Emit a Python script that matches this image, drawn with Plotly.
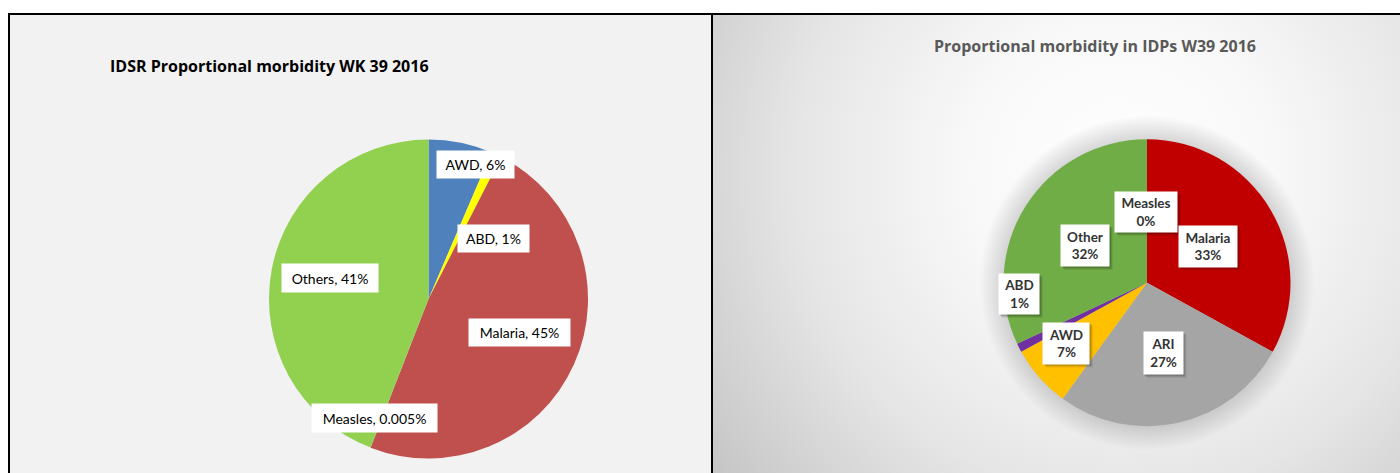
import base64
import plotly.graph_objects as go

W, H = 1400, 473

# ---------------- data ----------------
idsr_title = "IDSR Proportional morbidity WK 39 2016"
idsr_categories = ["AWD", "ABD", "Malaria", "Measles", "Others"]
idsr_values = [6, 1, 45, 0.005, 41]
idsr_colors = ["#4f81bd", "#ffff00", "#c0504d", "#8064a2", "#92d050"]

idp_title = "Proportional morbidity in IDPs W39 2016"
idp_categories = ["Malaria", "ARI", "AWD", "ABD", "Other", "Measles"]
idp_values = [33, 27, 7, 1, 32, 0]
idp_colors = ["#c00000", "#a5a5a5", "#ffc000", "#7030a0", "#70ad47", "#4472c4"]

# ---------------- layout helpers (pixel -> paper) ----------------
def px(x):
    return x / W


def py(y):
    return 1 - y / H


# label box placement (pixel centre x, centre y, box width, box height)
idsr_label_boxes = {
    "AWD": (475, 165, 77, 27),
    "ABD": (493, 238, 71, 27),
    "Malaria": (519, 332, 101, 27),
    "Measles": (374, 418, 125, 28),
    "Others": (330, 278, 96, 28),
}
idp_label_boxes = {
    "Malaria": (1207.5, 246, 58, 41),
    "ARI": (1163, 353, 39, 42),
    "AWD": (1066, 343, 46, 41),
    "ABD": (1019, 294, 40, 40),
    "Other": (1085, 245.5, 48, 41),
    "Measles": (1146, 212, 62, 40),
}

FONT = "Lato, 'Open Sans', sans-serif"
TITLE_FONT = "'Open Sans', Lato, sans-serif"

fig = go.Figure()

# left pie: centre (428.5, 299), r 159.5
fig.add_trace(go.Pie(
    labels=idsr_categories, values=idsr_values,
    marker=dict(colors=idsr_colors, line=dict(width=0)),
    sort=False, direction="clockwise", rotation=0,
    textinfo="none", hoverinfo="skip", showlegend=False,
    domain=dict(x=[px(269), px(588)], y=[py(458.5), py(139.5)]),
))

# right pie: centre (1147, 282.7), r 143.5
fig.add_trace(go.Pie(
    labels=idp_categories, values=idp_values,
    marker=dict(colors=idp_colors, line=dict(width=0)),
    sort=False, direction="clockwise", rotation=0,
    textinfo="none", hoverinfo="skip", showlegend=False,
    domain=dict(x=[px(1003.5), px(1290.5)], y=[py(426.2), py(139.2)]),
))

# ---------------- right panel gradient background (SVG) ----------------
rx0, ry0 = 712, 14
rw, rh = W - rx0, H - ry0
pcx, pcy, pr = 1147 - rx0, 282.7 - ry0, 143.5
svg = f'''<svg xmlns="http://www.w3.org/2000/svg" width="{rw}" height="{rh}" viewBox="0 0 {rw} {rh}">
<defs>
<radialGradient id="bg" gradientUnits="userSpaceOnUse" cx="{1120 - rx0}" cy="{170 - ry0}" r="520">
<stop offset="0" stop-color="#ffffff"/>
<stop offset="0.3" stop-color="#f8f8f8"/>
<stop offset="0.62" stop-color="#e6e6e6"/>
<stop offset="1" stop-color="#c3c3c3"/>
</radialGradient>
<radialGradient id="glow" gradientUnits="userSpaceOnUse" cx="{pcx}" cy="{pcy}" r="{pr + 24}">
<stop offset="0" stop-color="#000000" stop-opacity="0.2"/>
<stop offset="{pr / (pr + 24):.3f}" stop-color="#000000" stop-opacity="0.15"/>
<stop offset="1" stop-color="#000000" stop-opacity="0"/>
</radialGradient>
</defs>
<rect x="0" y="0" width="{rw}" height="{rh}" fill="url(#bg)"/>
<circle cx="{pcx}" cy="{pcy}" r="{pr + 24}" fill="url(#glow)"/>
</svg>'''
svg_uri = "data:image/svg+xml;base64," + base64.b64encode(svg.encode()).decode()

images = [dict(
    source=svg_uri, xref="paper", yref="paper",
    x=px(rx0), y=py(ry0), sizex=rw / W, sizey=rh / H,
    xanchor="left", yanchor="top", sizing="stretch", layer="below",
)]

shapes = [
    # left panel fill
    dict(type="rect", xref="paper", yref="paper",
         x0=px(9), x1=px(712), y0=py(H + 5), y1=py(14),
         fillcolor="#f2f2f2", line=dict(width=0), layer="below"),
    # borders
    dict(type="line", xref="paper", yref="paper",
         x0=px(8), x1=px(W + 5), y0=py(14), y1=py(14),
         line=dict(color="#000000", width=2)),
    dict(type="line", xref="paper", yref="paper",
         x0=px(9), x1=px(9), y0=py(14), y1=py(H + 5),
         line=dict(color="#000000", width=2)),
    dict(type="line", xref="paper", yref="paper",
         x0=px(712), x1=px(712), y0=py(14), y1=py(H + 5),
         line=dict(color="#000000", width=2)),
]

annotations = [
    dict(text=f"<b>{idsr_title}</b>", xref="paper", yref="paper",
         x=px(108), y=py(66), xanchor="left", yanchor="middle", showarrow=False,
         font=dict(family=TITLE_FONT, size=16, color="#000000")),
    dict(text=f"<b>{idp_title}</b>", xref="paper", yref="paper",
         x=px(1094.5), y=py(46), xanchor="center", yanchor="middle", showarrow=False,
         font=dict(family=TITLE_FONT, size=16, color="#595959")),
]

for cat, val in zip(idsr_categories, idsr_values):
    cx, cy, bw, bh = idsr_label_boxes[cat]
    annotations.append(dict(
        text=f"{cat}, {val:g}%", xref="paper", yref="paper",
        x=px(cx), y=py(cy), xanchor="center", yanchor="middle", showarrow=False,
        width=bw, height=bh, borderpad=0, bgcolor="#ffffff",
        font=dict(family=FONT, size=14, color="#000000"),
    ))

for cat, val in zip(idp_categories, idp_values):
    cx, cy, bw, bh = idp_label_boxes[cat]
    # soft drop shadow behind the label box
    for off, alpha in ((4, 0.07), (3, 0.1), (2, 0.12)):
        shapes.append(dict(
            type="rect", xref="paper", yref="paper", layer="above",
            x0=px(cx - bw / 2 + off - 1), x1=px(cx + bw / 2 + off),
            y0=py(cy + bh / 2 + off), y1=py(cy - bh / 2 + off - 1),
            fillcolor=f"rgba(0,0,0,{alpha})", line=dict(width=0),
        ))
    annotations.append(dict(
        text=f"<b>{cat}</b><br><b>{val:g}%</b>", xref="paper", yref="paper",
        x=px(cx), y=py(cy), xanchor="center", yanchor="middle", showarrow=False,
        width=bw, height=bh, borderpad=0, bgcolor="#ffffff",
        font=dict(family=FONT, size=13.5, color="#333333"),
    ))

fig.update_layout(
    width=W, height=H,
    margin=dict(l=0, r=0, t=0, b=0),
    paper_bgcolor="#ffffff", plot_bgcolor="#ffffff",
    shapes=shapes, images=images, annotations=annotations,
    showlegend=False,
)

fig.write_html("out.html", config={"displayModeBar": False},
               post_script="document.body.style.margin='0px';")
